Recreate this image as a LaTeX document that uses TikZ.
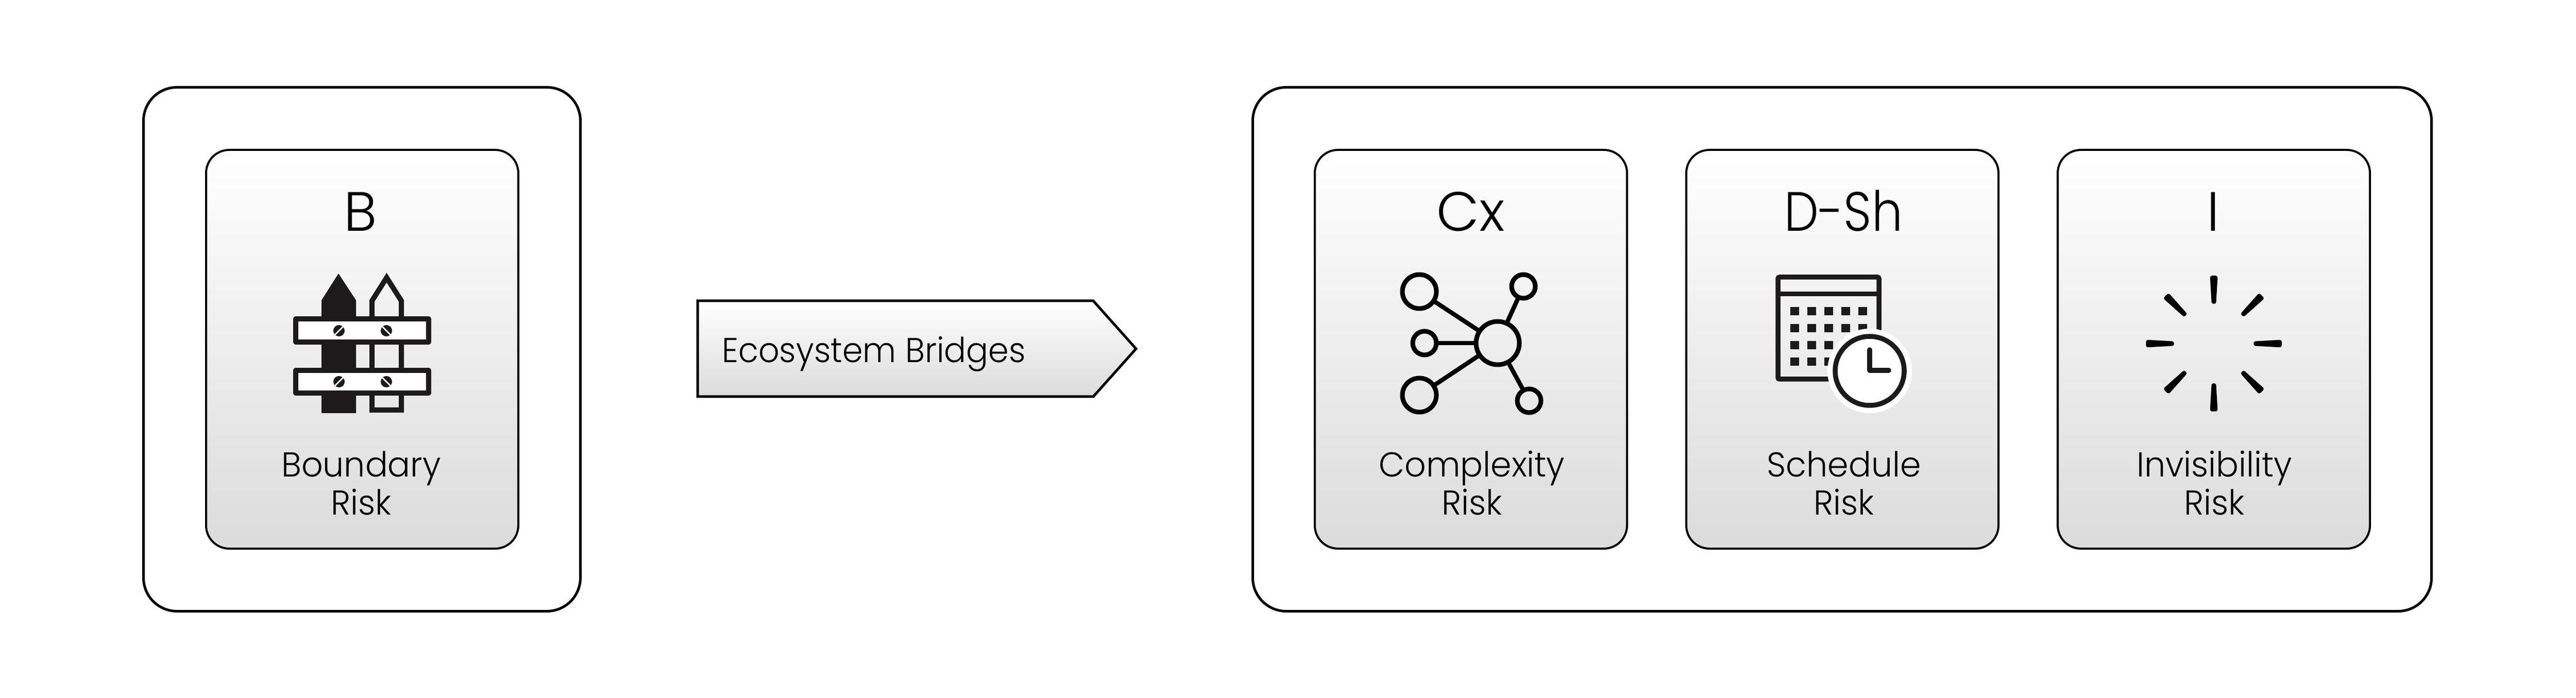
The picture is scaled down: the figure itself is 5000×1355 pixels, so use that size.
\documentclass[tikz,border=0pt]{standalone}
\usepackage{fontspec}
\setmainfont{Poppins Light}
\newfontfamily\narrowfont{Poppins Light}[FakeStretch=0.97]
\newfontfamily\bridgefont{Poppins Light}[FakeStretch=0.95]
\newfontfamily\dshfont{Poppins Light}[FakeStretch=0.88]
\definecolor{ink}{HTML}{1C1A1B}
\tikzset{
  x=0.2pt,y=-0.2pt,
  outerbox/.style={draw=black,line width=1pt,rounded corners=13pt,fill=white,inner sep=0pt,minimum width=169.6pt,minimum height=203.4pt,anchor=north west},
  cardbox/.style={draw=black,line width=0.8pt,rounded corners=9pt,top color=white,bottom color=black!14,inner sep=0pt,minimum width=121.2pt,minimum height=154.8pt,anchor=north west},
  codetext/.style={font=\fontsize{21.5pt}{24pt}\selectfont,anchor=base,inner sep=0pt},
  nametext/.style={font=\narrowfont\fontsize{13.4pt}{14.8pt}\selectfont,align=center,anchor=center,inner sep=0pt},
  netnode/.style={circle,draw=black,line width=1.8pt,inner sep=0pt,outer sep=0pt},
  smallnet/.style={netnode,minimum size=9.2pt},
  bignet/.style={netnode,minimum size=13.2pt},
  hubnet/.style={netnode,minimum size=16.8pt},
  netedge/.style={draw=black,line width=1.7pt},
  sunray/.style={fill=black,draw=black,line width=1.5pt,line join=round},
}
\begin{document}
\begin{tikzpicture}
\useasboundingbox (0,0) rectangle (5000,1355);
\node[outerbox] (outerL) at (276,167) {};
\node[outerbox,minimum width=457.6pt] (outerR) at (2429,167) {};
\node[cardbox] (cardB) at (398,289) {};
\node[cardbox] (cardCx) at (2550,289) {};
\node[cardbox] (cardSh) at (3271,289) {};
\node[cardbox] (cardI) at (3992,289) {};
% arrow
\draw[line width=1pt,top color=white,bottom color=black!14] (1354,584) -- (2122,584) -- (2205,677) -- (2122,770) -- (1354,770) -- cycle;
\node[font=\bridgefont\fontsize{13.4pt}{15pt}\selectfont,anchor=base west,inner sep=0pt] (bridges) at (1400,704) {Ecosystem Bridges};
% labels
\node[codetext] (codeB) at (700,449) {B};
\node[codetext] (codeCx) at (2855,449) {Cx};
\node[codetext,font=\dshfont\fontsize{21.5pt}{24pt}\selectfont] (codeSh) at (3578,449) {D-Sh};
\node[codetext] (codeI) at (4296,449) {I};
\node[nametext] (nameB) at (701,938) {Boundary\\Risk};
\node[nametext] (nameCx) at (2857,938) {Complexity\\Risk};
\node[nametext] (nameSh) at (3579,938) {Schedule\\Risk};
\node[nametext] (nameI) at (4298,938) {Invisibility\\Risk};
% fence
\fill[ink] (624,802) -- (624,583) -- (657,531) -- (691,583) -- (691,802) -- cycle;
\draw[ink,line width=2pt] (722,796) -- (722,584) -- (750.5,539) -- (779,584) -- (779,796) -- cycle;
\foreach \ya/\yb in {619/664,719/763}{
  \draw[ink,line width=2pt,fill=white,line join=round] (574,\ya) rectangle (832,\yb);
}
\foreach \sy in {642,741}{
  \fill[ink] (658,\sy) circle[radius=11];
  \draw[white,line width=0.5pt] (649,\sy+9) -- (667,\sy-9);
  \fill[ink] (750,\sy) circle[radius=11];
  \draw[white,line width=0.5pt] (741,\sy-9) -- (759,\sy+9);
}
% network
\node[hubnet] (hub) at (2907,666) {};
\node[bignet] (nTL) at (2755,566) {};
\node[smallnet] (nML) at (2765,666) {};
\node[bignet] (nBL) at (2755,767) {};
\node[smallnet] (nTR) at (2957,556) {};
\node[smallnet] (nBR) at (2968,778) {};
\foreach \n in {nTL,nML,nBL,nTR,nBR}{ \draw[netedge] (hub) -- (\n); }
% calendar
\draw[ink,line width=1.9pt,rounded corners=0.6pt] (3451,538) rectangle (3647,736);
\draw[ink,line width=1.9pt] (3451,570.5) -- (3647,570.5);
\foreach \sx in {3475,3508,3541,3574,3607}{
  \foreach \sy in {596,629,662,694}{
    \fill[ink] (\sx,\sy) rectangle +(16.5,16.5);
  }
}
\fill[white] (3629,720) circle[radius=82];
\draw[ink,line width=1.9pt] (3629,720) circle[radius=67];
\draw[ink,line width=1.9pt,line cap=round,line join=round] (3629,679) -- (3629,719) -- (3666,719);
% sunburst
\foreach \a in {0,45,...,315}{
  \begin{scope}[shift={(4297,667)},rotate=\a]
    \path[sunray] (81,-0.8) -- (128,-3.5) -- (128,3.5) -- (81,0.8) -- cycle;
  \end{scope}
}
\end{tikzpicture}
\end{document}
